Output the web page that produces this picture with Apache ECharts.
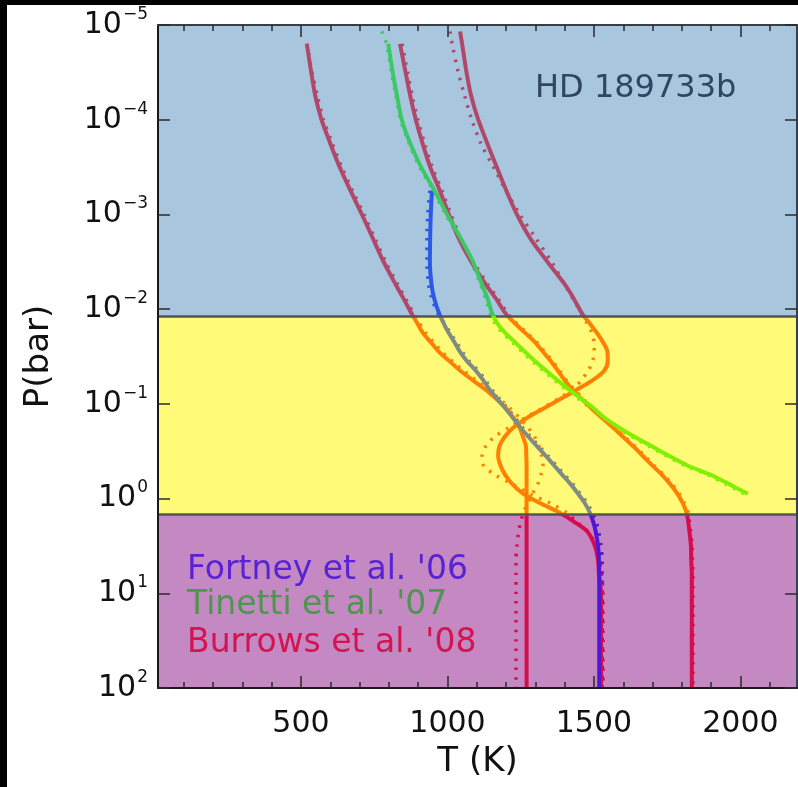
<!DOCTYPE html>
<html><head><meta charset="utf-8">
<script src="https://cdn.jsdelivr.net/npm/echarts@6/dist/echarts.min.js"></script>
<style>html,body{margin:0;padding:0;background:#fff;}#chart{width:798px;height:787px;}</style>
</head><body><div id="chart"></div>
<script>
// Pressure grid (bar), shared by all temperature profiles
const pressure = [1.17e-5, 1.58e-5, 3.16e-5, 5.62e-5, 1e-4, 1.78e-4, 3.16e-4, 5.62e-4, 1e-3, 1.78e-3, 3.16e-3, 5.62e-3, 7.94e-3, 1.12e-2,
  1.41e-2, 1.78e-2, 2.24e-2, 2.82e-2, 3.55e-2, 4.47e-2, 5.62e-2, 7.08e-2, 8.91e-2, 0.112, 0.141, 0.178, 0.224,
  0.282, 0.355, 0.447, 0.562, 0.708, 0.891, 1.12, 1.41, 1.78, 2.24, 3.16, 4.47, 6.31, 10, 17.8, 31.6, 56.2, 100];

// Temperatures (K) at each pressure; null = profile not drawn there
const burrowsCool = [null, 520,535,549,570,600,632,669,708,745,782,825,852,878,
  897,916,943,971,1007,1044,1086,1130,1167,1201,1225,1246,1258,
  1268,1269,1270,1270,1270,1270,1270,1270,1270,1270,1270,1270,1270,1270,1270,1270,1270,1270];
const burrowsCoolDotted = [null, 520,538,556,577,607,639,676,715,752,789,832,859,885,
  905,925,953,981,1017,1055,1097,1140,1178,1214,1246,1275,1298,
  1313,1322,1326,1319,1308,1290,1274,1259,1250,1243,1237,1234,1234,1234,1234,1234,1234,1234];
const burrowsMid = [null, 838,857,873,892,915,941,974,1005,1038,1081,1133,1168,1199,
  1230,1265,1299,1326,1353,1377,1400,1427,1459,1492,1528,1565,1600,
  1635,1667,1699,1732,1761,1785,1803,1816,1822,1826,1831,1832,1834,1834,1834,1834,1834,1834];
const burrowsMidDotted = [null, 845,864,880,899,922,948,981,1012,1045,1088,1140,1175,1206,
  1236,1271,1305,1332,1359,1383,1406,1433,1465,1498,1534,1571,1606,
  1641,1673,1705,1738,1767,1791,1809,1822,1826,1830,1835,1836,1838,1838,1838,1838,1838,1838];
const burrowsHot = [1043, 1050,1065,1081,1105,1136,1168,1201,1237,1282,1341,1403,1433,1460,
  1485,1510,1531,1546,1547,1535,1496,1441,1385,1328,1271,1225,1195,
  1177,1173,1181,1197,1222,1259,1317,1383,1435,1478,1503,1514,1517,1524,1524,1524,1524,1524];
const burrowsHotDotted = [1009, 1016,1037,1059,1083,1114,1157,1200,1247,1301,1355,1402,1430,1458,
  1476,1493,1500,1501,1495,1480,1457,1428,1376,1322,1264,1210,1160,
  1130,1118,1123,1163,1223,1282,1351,1407,1442,1480,1508,1520,1526,1531,1531,1531,1531,1531];
const fortney = [null,null,null,null,null,null,null, 947,943,941,940,946,956,972,
  987,1004,1024,1043,1067,1097,1122,1144,1171,1198,1224,1249,1277,
  1306,1336,1364,1392,1421,1446,1469,1486,1498,1506,1514,1517,1518,1518,1518,1518,1518,1518];
const fortneyDotted = [null,null,null,null,null,null,null, 940,933,930,930,936,948,968,
  990,1010,1031,1051,1075,1105,1130,1152,1179,1206,1232,1257,1285,
  1314,1344,1372,1400,1429,1454,1477,1495,1508,1516,1524,1528,1528,1528,1528,1528,1528,1528];
const tinetti = [null, 798,813,828,844,873,910,956,999,1045,1087,1119,1138,1153,
  1170,1197,1231,1264,1299,1337,1375,1415,1458,1500,1537,1586,1640,
  1699,1757,1819,1899,1963,2025, null,null,null,null,null,null,null,null,null,null,null,null];
const tinettiDotted = [776, 792,809,824,840,869,905,951,994,1040,1082,1114,1132,1146,
  1161,1187,1221,1254,1289,1327,1365,1405,1448,1490,1527,1576,1630,
  1689,1747,1809,1889,1950,2012, null,null,null,null,null,null,null,null,null,null,null,null];

// Atmosphere layer boundaries (bar)
const layerEdges = [1e-5, 0.0119, 1.46, 100];
const majorTicksT = [500, 1000, 1500, 2000];
const minorTicksT = [100,200,300,400,600,700,800,900,1100,1200,1300,1400,1600,1700,1800,1900,2100];
const legendLabels = ["Fortney et al. '06", "Tinetti et al. '07", "Burrows et al. '08"];

const FONT = '"DejaVu Sans", "Liberation Sans", sans-serif';
const bandColors = ['#a9c6df', '#fffa78', '#c488c3'];
const burrowsColors = ['#b0486a', '#ff8000', '#d80c4c'];
const fortneyColors = ['#2a5ae6', '#818b82', '#5216d2'];
const tinettiColors = ['#3cc864', '#80f000', '#80f000'];

function pairs(temps) {
  const out = [];
  temps.forEach((t, i) => { if (t != null) out.push([t, pressure[i]]); });
  return out;
}
function lineSeries(name, temps, dotted, z) {
  return {
    name, type: 'line', xAxisIndex: 0, yAxisIndex: 0, data: pairs(temps),
    showSymbol: false, symbol: 'none', smooth: 0.3, z,
    lineStyle: dotted ? { width: 3.5, type: [2.5, 7], cap: 'butt' } : { width: 4 },
    emphasis: { disabled: true }, silent: true
  };
}
function pieces(colors) {
  return [
    { gte: 1e-9, lt: layerEdges[1], color: colors[0] },
    { gte: layerEdges[1], lt: layerEdges[2], color: colors[1] },
    { gte: layerEdges[2], lte: 1e9, color: colors[2] }
  ];
}

const xMin = 12, xMax = 2193;
const chart = echarts.init(document.getElementById('chart'), null, { renderer: 'canvas' });
const series = [
  {
    type: 'line', data: [], xAxisIndex: 0, yAxisIndex: 0, z: 1, silent: true,
    markArea: {
      silent: true,
      data: [
        [{ yAxis: layerEdges[0], itemStyle: { color: bandColors[0], opacity: 1 } }, { yAxis: layerEdges[1] }],
        [{ yAxis: layerEdges[1], itemStyle: { color: bandColors[1], opacity: 1 } }, { yAxis: layerEdges[2] }],
        [{ yAxis: layerEdges[2], itemStyle: { color: bandColors[2], opacity: 1 } }, { yAxis: layerEdges[3] }]
      ]
    },
    markLine: {
      silent: true, symbol: ['none', 'none'], label: { show: false }, precision: 8,
      lineStyle: { color: '#555', width: 2.5, type: 'solid' },
      data: [{ yAxis: layerEdges[1] }, { yAxis: layerEdges[2] }]
    }
  },
  lineSeries('Burrows cool dotted', burrowsCoolDotted, true, 2),
  lineSeries('Burrows mid dotted', burrowsMidDotted, true, 2),
  lineSeries('Burrows hot dotted', burrowsHotDotted, true, 2),
  lineSeries('Fortney dotted', fortneyDotted, true, 2),
  lineSeries('Tinetti dotted', tinettiDotted, true, 2),
  lineSeries('Burrows cool', burrowsCool, false, 3),
  lineSeries('Burrows mid', burrowsMid, false, 3),
  lineSeries('Burrows hot', burrowsHot, false, 3),
  lineSeries('Fortney', fortney, false, 4),
  lineSeries('Tinetti', tinetti, false, 5)
];

const axisLineStyle = { color: '#1a1a1a', width: 2 };
const tickStyle = { color: '#2a2a2a', width: 1.5 };

const option = {
  animation: false,
  backgroundColor: '#ffffff',
  grid: [
    { left: 158, right: 1, top: 25, bottom: 99, containLabel: false, outerBoundsMode: 'none' },
    { left: 158, right: 1, top: 25, bottom: 99, containLabel: false, outerBoundsMode: 'none' }
  ],
  visualMap: [
    { type: 'piecewise', show: false, dimension: 1, seriesIndex: [1, 2, 3, 6, 7, 8], pieces: pieces(burrowsColors) },
    { type: 'piecewise', show: false, dimension: 1, seriesIndex: [4, 9], pieces: pieces(fortneyColors) },
    { type: 'piecewise', show: false, dimension: 1, seriesIndex: [5, 10], pieces: pieces(tinettiColors) }
  ],
  xAxis: [
    {
      gridIndex: 0, type: 'value', position: 'bottom', min: xMin, max: xMax, z: 20,
      name: 'T (K)', nameLocation: 'middle', nameGap: 57,
      nameTextStyle: { fontSize: 34, fontFamily: FONT, color: '#111' },
      axisLine: { show: true, onZero: false, lineStyle: axisLineStyle },
      axisTick: { show: true, inside: true, length: 12, customValues: majorTicksT, lineStyle: tickStyle },
      axisLabel: { show: true, customValues: majorTicksT, fontSize: 30, fontFamily: FONT, color: '#111', margin: 21,
        formatter: function (v) { return String(v); } },
      splitLine: { show: false }
    },
    {
      gridIndex: 0, type: 'value', position: 'top', min: xMin, max: xMax, z: 20,
      axisLine: { show: true, onZero: false, lineStyle: { color: '#34404e', width: 2 } },
      axisTick: { show: true, inside: true, length: 12, customValues: majorTicksT, lineStyle: tickStyle },
      axisLabel: { show: false }, splitLine: { show: false }
    },
    {
      gridIndex: 1, type: 'value', position: 'bottom', min: xMin, max: xMax, z: 20,
      axisLine: { show: false, onZero: false },
      axisTick: { show: true, inside: true, length: 6, customValues: minorTicksT, lineStyle: tickStyle },
      axisLabel: { show: false }, splitLine: { show: false }
    },
    {
      gridIndex: 1, type: 'value', position: 'top', min: xMin, max: xMax, z: 20,
      axisLine: { show: false, onZero: false },
      axisTick: { show: true, inside: true, length: 6, customValues: minorTicksT, lineStyle: tickStyle },
      axisLabel: { show: false }, splitLine: { show: false }
    }
  ],
  yAxis: [
    {
      gridIndex: 0, type: 'log', logBase: 10, min: 1e-5, max: 100, inverse: true, position: 'left', z: 20,
      name: 'P(bar)', nameLocation: 'middle', nameGap: 102, nameRotate: 90,
      nameTextStyle: { fontSize: 34, fontFamily: FONT, color: '#111' },
      axisLine: { show: true, onZero: false, lineStyle: axisLineStyle },
      axisTick: { show: true, inside: true, length: 12, lineStyle: tickStyle },
      axisLabel: {
        margin: 10, color: '#111',
        formatter: function (v) {
          const e = Math.round(Math.log10(v));
          const s = e < 0 ? '\u2212' + (-e) : String(e);
          return '{b|10}{s|' + s + '}';
        },
        rich: {
          b: { fontSize: 30, fontFamily: FONT, color: '#111', lineHeight: 38, verticalAlign: 'middle' },
          s: { fontSize: 17, fontFamily: FONT, color: '#111', lineHeight: 17, verticalAlign: 'top', padding: [0, 0, 0, 1] }
        }
      },
      splitLine: { show: false }, minorTick: { show: false }
    },
    {
      gridIndex: 0, type: 'log', logBase: 10, min: 1e-5, max: 100, inverse: true, position: 'right', z: 20,
      axisLine: { show: true, onZero: false, lineStyle: { color: '#34404e', width: 2 } },
      axisTick: { show: true, inside: true, length: 12, lineStyle: tickStyle },
      axisLabel: { show: false }, splitLine: { show: false }
    },
    { gridIndex: 1, type: 'value', show: false }
  ],
  graphic: [
    { type: 'rect', z: 100, shape: { x: 0, y: 0, width: 798, height: 5 }, style: { fill: '#000' } },
    { type: 'rect', z: 100, shape: { x: 0, y: 0, width: 7, height: 787 }, style: { fill: '#000' } },
    { type: 'text', z: 100, style: { x: 535, y: 89, text: 'HD 189733b', font: '32px ' + FONT, fill: '#2d4761', align: 'left', verticalAlign: 'middle' } },
    { type: 'text', z: 100, style: { x: 187, y: 570, text: legendLabels[0], font: '33px ' + FONT, fill: '#5a22d6', align: 'left', verticalAlign: 'middle' } },
    { type: 'text', z: 100, style: { x: 187, y: 605, text: legendLabels[1], font: '33px ' + FONT, fill: '#4e964e', align: 'left', verticalAlign: 'middle' } },
    { type: 'text', z: 100, style: { x: 187, y: 643, text: legendLabels[2], font: '33px ' + FONT, fill: '#d41450', align: 'left', verticalAlign: 'middle' } }
  ],
  series
};
chart.setOption(option);
</script>
</body></html>
